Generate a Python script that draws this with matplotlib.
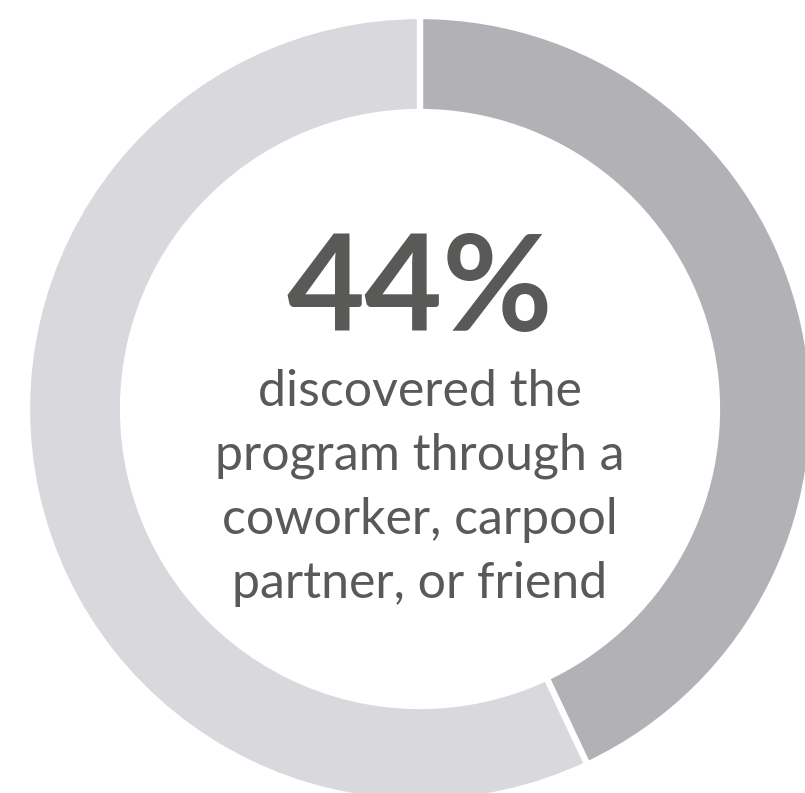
import matplotlib.pyplot as plt

# share of respondents
labels = ["coworker / carpool partner / friend", "other"]
shares = [43, 57]
colors = ["#b2b1b6", "#d9d8dd"]

big_text = "44%"
lines = ["discovered the", "program through a", "coworker, carpool", "partner, or friend"]

plt.rcParams['font.family'] = ['Lato', 'DejaVu Sans']

W, H = 805, 793
fig = plt.figure(figsize=(W / 100, H / 100), dpi=100)
ax = fig.add_axes([0, 0, 1, 1])

# pixel coordinates, y measured from the top
cx, cy = 420, 409
ax.pie(shares, colors=colors, startangle=90, counterclock=False,
       center=(cx, H - cy), radius=393,
       wedgeprops=dict(width=96, edgecolor="white", linewidth=4.5))

ax.set_xlim(0, W)
ax.set_ylim(0, H)
ax.set_aspect("equal")
ax.axis("off")

ax.text(cx, H - 292, big_text, ha="center", va="center", fontsize=97,
        fontweight="bold", color="#595a58")
for i, line in enumerate(lines):
    ax.text(cx, H - (392 + i * 64), line, ha="center", va="center",
            fontsize=36, color="#595a58")

fig.savefig("out.png", dpi=100)
